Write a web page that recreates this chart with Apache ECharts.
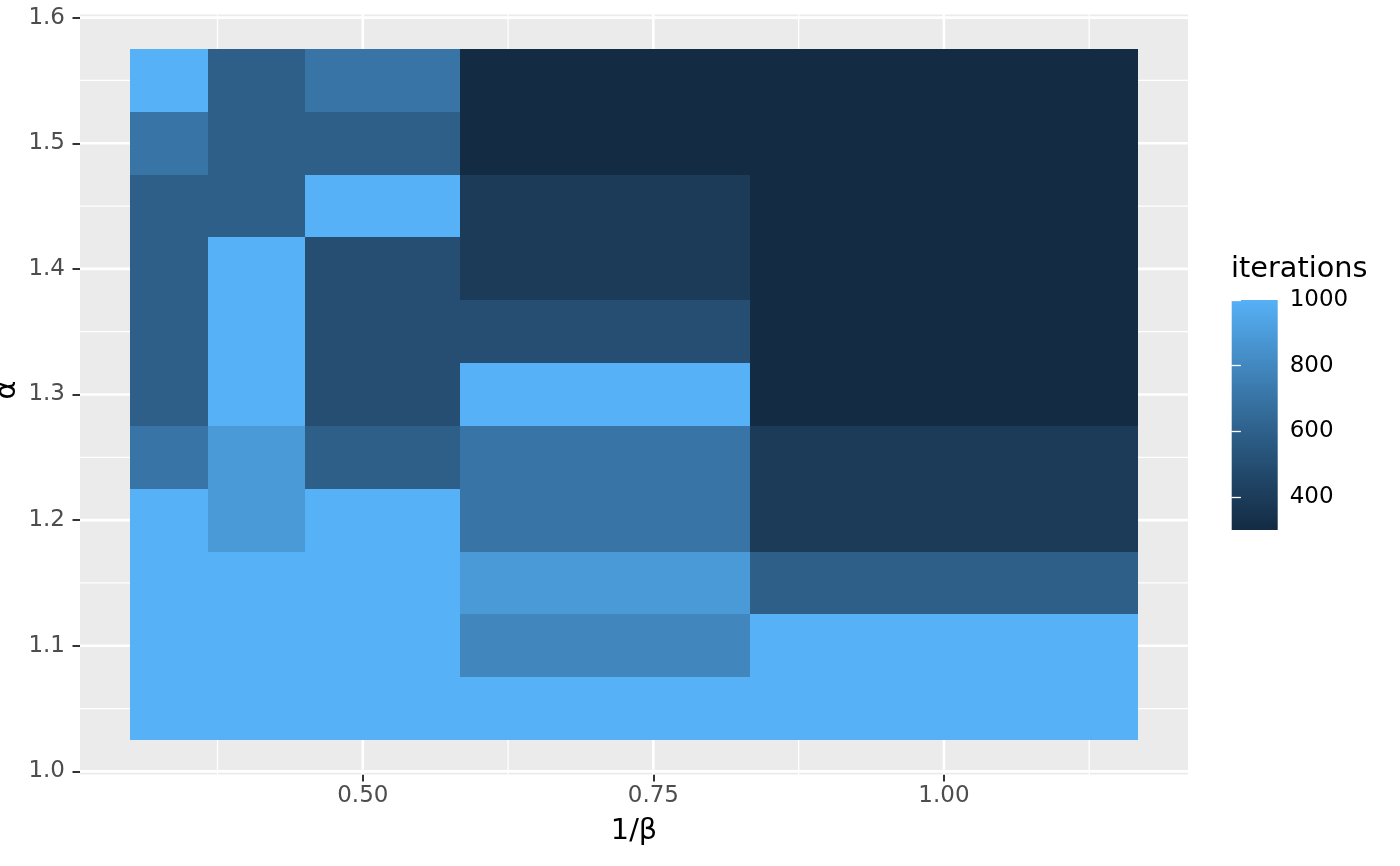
<!DOCTYPE html>
<html>
<head>
<meta charset="utf-8">
<script src="https://cdn.jsdelivr.net/npm/echarts@6/dist/echarts.min.js"></script>
<style>
html,body{margin:0;padding:0;background:#ffffff;}
#chart{width:1400px;height:866px;}
</style>
</head>
<body>
<div id="chart"></div>
<script>
// ---------------- data ----------------
const invBeta = [1/3, 0.4, 0.5, 2/3, 1.0];                 // 1/β (column centres)
const alpha   = [1.05, 1.10, 1.15, 1.20, 1.25, 1.30, 1.35, 1.40, 1.45, 1.50, 1.55]; // α (row centres)
// iterations for each 1/β column, listed for α ascending
const iterInvBeta033 = [1000, 1000, 1000, 1000, 700, 590, 590, 590, 590, 700, 1000];
const iterInvBeta040 = [1000, 1000, 1000, 890, 890, 1000, 1000, 1000, 590, 590, 590];
const iterInvBeta050 = [1000, 1000, 1000, 1000, 590, 500, 500, 500, 1000, 590, 700];
const iterInvBeta067 = [1000, 795, 890, 700, 700, 1000, 500, 395, 395, 300, 300];
const iterInvBeta100 = [1000, 1000, 590, 395, 395, 300, 300, 300, 300, 300, 300];
const xBreaks      = [0.50, 0.75, 1.00];
const xMinorBreaks = [0.375, 0.625, 0.875, 1.125];
const yBreaks      = [1.0, 1.1, 1.2, 1.3, 1.4, 1.5, 1.6];
const yMinorBreaks = [1.05, 1.15, 1.25, 1.35, 1.45, 1.55];
const legendBreaks = [400, 600, 800, 1000];
const iterLimits   = [300, 1000];
const lowColour = '#132B43', highColour = '#56B1F7';

// ---------------- colour scale (CIELAB interpolation like ggplot) ----------------
function s2l(c){c/=255;return c<=0.04045?c/12.92:Math.pow((c+0.055)/1.055,2.4);}
function l2s(c){c=c<=0.0031308?12.92*c:1.055*Math.pow(c,1/2.4)-0.055;return Math.round(Math.max(0,Math.min(1,c))*255);}
const WX=0.95047, WY=1.0, WZ=1.08883;
function fLab(t){return t>0.008856?Math.cbrt(t):(7.787*t+16/116);}
function fInv(t){const t3=t*t*t;return t3>0.008856?t3:(t-16/116)/7.787;}
function hexToLab(h){
  const r=s2l(parseInt(h.substr(1,2),16)), g=s2l(parseInt(h.substr(3,2),16)), b=s2l(parseInt(h.substr(5,2),16));
  const X=(0.4124564*r+0.3575761*g+0.1804375*b)/WX;
  const Y=(0.2126729*r+0.7151522*g+0.0721750*b)/WY;
  const Z=(0.0193339*r+0.1191920*g+0.9503041*b)/WZ;
  const fx=fLab(X), fy=fLab(Y), fz=fLab(Z);
  return [116*fy-16, 500*(fx-fy), 200*(fy-fz)];
}
function labToHex(L,a,b){
  const fy=(L+16)/116, fx=fy+a/500, fz=fy-b/200;
  const X=fInv(fx)*WX, Y=fInv(fy)*WY, Z=fInv(fz)*WZ;
  const r= 3.2404542*X-1.5371385*Y-0.4985314*Z;
  const g=-0.9692660*X+1.8760108*Y+0.0415560*Z;
  const bb=0.0556434*X-0.2040259*Y+1.0572252*Z;
  const hx=v=>('0'+l2s(v).toString(16)).slice(-2);
  return '#'+hx(r)+hx(g)+hx(bb);
}
const labLow=hexToLab(lowColour), labHigh=hexToLab(highColour);
function iterColour(v){
  let t=(v-iterLimits[0])/(iterLimits[1]-iterLimits[0]);
  t=Math.max(0,Math.min(1,t));
  return labToHex(labLow[0]+(labHigh[0]-labLow[0])*t, labLow[1]+(labHigh[1]-labLow[1])*t, labLow[2]+(labHigh[2]-labLow[2])*t);
}

// ---------------- tile geometry (cells reach half-way to neighbours) ----------------
function edgesOf(c){
  const e=[c[0]-(c[1]-c[0])/2];
  for(let i=0;i<c.length-1;i++) e.push((c[i]+c[i+1])/2);
  e.push(c[c.length-1]+(c[c.length-1]-c[c.length-2])/2);
  return e;
}
const xEdges=edgesOf(invBeta), yEdges=edgesOf(alpha);
const xPad=0.05*(xEdges[xEdges.length-1]-xEdges[0]);
const yPad=0.05*(yEdges[yEdges.length-1]-yEdges[0]);
const xMin=xEdges[0]-xPad, xMax=xEdges[xEdges.length-1]+xPad;
const yMin=yEdges[0]-yPad, yMax=yEdges[yEdges.length-1]+yPad;

const columns=[iterInvBeta033, iterInvBeta040, iterInvBeta050, iterInvBeta067, iterInvBeta100];
const tileData=[];
columns.forEach((col,i)=>col.forEach((v,j)=>tileData.push([invBeta[i], alpha[j], v, i, j])));

const FONT='DejaVu Sans';

function vLines(width){
  return function(params, api){
    const cs=params.coordSys;
    const p=api.coord([api.value(0), api.value(1)]);
    return {type:'line', shape:{x1:p[0], y1:cs.y, x2:p[0], y2:cs.y+cs.height},
            style:{stroke:'#ffffff', lineWidth:width}, silent:true};
  };
}
function hLines(width){
  return function(params, api){
    const cs=params.coordSys;
    const p=api.coord([api.value(0), api.value(1)]);
    return {type:'line', shape:{x1:cs.x, y1:p[1], x2:cs.x+cs.width, y2:p[1]},
            style:{stroke:'#ffffff', lineWidth:width}, silent:true};
  };
}

const gradStops=[];
for(let k=0;k<=40;k++){
  gradStops.push({offset:k/40, color:iterColour(iterLimits[0]+(iterLimits[1]-iterLimits[0])*k/40)});
}

const chart=echarts.init(document.getElementById('chart'), null, {renderer:'canvas'});
const option={
  animation:false,
  backgroundColor:'#ffffff',
  grid:[
    {left:80, right:212, top:14.5, bottom:91.5, show:true, backgroundColor:'#EBEBEB', borderWidth:0, outerBoundsMode:'none'},
    {left:1231.7, top:300, width:46, height:230, show:false, outerBoundsMode:'none'}
  ],
  xAxis:[
    {type:'value', gridIndex:0, min:xMin, max:xMax,
     axisLine:{show:false}, splitLine:{show:false},
     axisTick:{show:true, customValues:xBreaks, length:7, lineStyle:{color:'#333333', width:2}},
     axisLabel:{customValues:xBreaks, formatter:v=>Number(v).toFixed(2), color:'#4D4D4D', fontSize:23, fontFamily:FONT, margin:10}},
    {type:'value', gridIndex:1, min:0, max:1, show:false}
  ],
  yAxis:[
    {type:'value', gridIndex:0, min:yMin, max:yMax,
     axisLine:{show:false}, splitLine:{show:false},
     axisTick:{show:true, customValues:yBreaks, length:7.5, lineStyle:{color:'#333333', width:2}},
     axisLabel:{customValues:yBreaks, formatter:v=>Number(v).toFixed(1), color:'#4D4D4D', fontSize:23, fontFamily:FONT, margin:15}},
    {type:'value', gridIndex:1, min:iterLimits[0], max:iterLimits[1], position:'right', z:10,
     axisLine:{show:false}, splitLine:{show:false},
     axisTick:{show:true, inside:true, customValues:legendBreaks, length:9.2, lineStyle:{color:'#ffffff', width:1.3}},
     axisLabel:{customValues:legendBreaks, formatter:v=>String(Math.round(v)), color:'#000000', fontSize:23, fontFamily:FONT, margin:12}},
    {type:'value', gridIndex:1, min:iterLimits[0], max:iterLimits[1], position:'left', z:10,
     axisLine:{show:false}, splitLine:{show:false},
     axisTick:{show:true, inside:true, customValues:legendBreaks, length:9.2, lineStyle:{color:'#ffffff', width:1.3}},
     axisLabel:{show:false}}
  ],
  series:[
    {type:'custom', name:'minorX', xAxisIndex:0, yAxisIndex:0, z:1, silent:true,
     data:xMinorBreaks.map(v=>[v,yMin]), renderItem:vLines(1.3)},
    {type:'custom', name:'minorY', xAxisIndex:0, yAxisIndex:0, z:1, silent:true,
     data:yMinorBreaks.map(v=>[xMin,v]), renderItem:hLines(1.3)},
    {type:'custom', name:'majorX', xAxisIndex:0, yAxisIndex:0, z:1, silent:true,
     data:xBreaks.map(v=>[v,yMin]), renderItem:vLines(2.6)},
    {type:'custom', name:'majorY', xAxisIndex:0, yAxisIndex:0, z:1, silent:true,
     data:yBreaks.map(v=>[xMin,v]), renderItem:hLines(2.6)},
    {type:'custom', name:'iterations', xAxisIndex:0, yAxisIndex:0, z:3,
     data:tileData,
     encode:{x:0, y:1},
     renderItem:function(params, api){
       const i=api.value(3), j=api.value(4);
       const p0=api.coord([xEdges[i], yEdges[j]]);
       const p1=api.coord([xEdges[i+1], yEdges[j+1]]);
       const xa=Math.round(Math.min(p0[0],p1[0])), xb=Math.round(Math.max(p0[0],p1[0]));
       const ya=Math.round(Math.min(p0[1],p1[1])), yb=Math.round(Math.max(p0[1],p1[1]));
       return {type:'rect',
         shape:{x:xa, y:ya, width:xb-xa, height:yb-ya},
         style:{fill:iterColour(api.value(2))}};
     }},
    {type:'custom', name:'colourbar', xAxisIndex:1, yAxisIndex:1, z:3, silent:true,
     data:[[0, iterLimits[0]]],
     renderItem:function(params, api){
       const p0=api.coord([0, iterLimits[0]]);
       const p1=api.coord([1, iterLimits[1]]);
       return {type:'rect',
         shape:{x:p0[0], y:p1[1], width:p1[0]-p0[0], height:p0[1]-p1[1]},
         style:{fill:new echarts.graphic.LinearGradient(0,1,0,0,gradStops)}};
     }}
  ],
  graphic:[
    {type:'text', left:1231, top:255, style:{text:'iterations', font:'28.75px "DejaVu Sans"', fill:'#000000'}},
    {type:'text', x:634, y:832, style:{text:'1/β', font:'28.75px "DejaVu Sans"', fill:'#000000', align:'center', verticalAlign:'middle'}},
    {type:'text', x:8, y:390, rotation:Math.PI/2, style:{text:'α', font:'28.75px "DejaVu Sans"', fill:'#000000', align:'center', verticalAlign:'middle'}}
  ]
};
chart.setOption(option);
</script>
</body>
</html>
